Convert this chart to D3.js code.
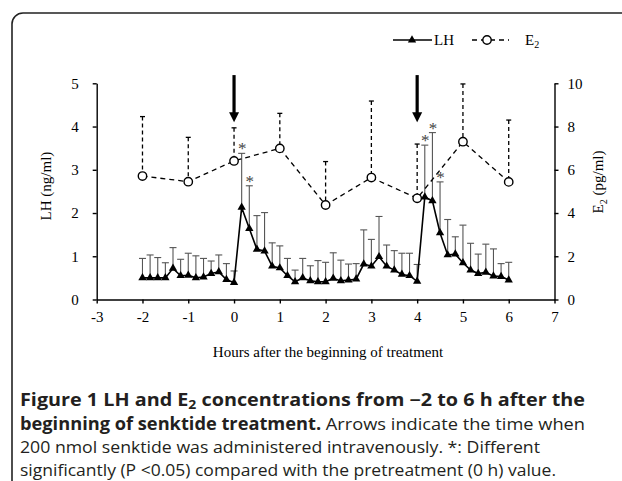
<!DOCTYPE html>
<html>
<head>
<meta charset="utf-8">
<script src="https://cdn.jsdelivr.net/npm/d3@7"></script>
<style>
  body { margin: 0; background: #fff; }
  svg { display: block; }
</style>
</head>
<body>
<svg width="622" height="481"></svg>
<script>
// sampling times for LH (minutes from start of treatment)
var lhMinutes = [-120, -110, -100, -90, -80, -70, -60, -50, -40, -30, -20, -10, 0,
  10, 20, 30, 40, 50, 60, 70, 80, 90, 100, 110, 120, 130, 140, 150, 160, 170, 180,
  190, 200, 210, 220, 230, 240, 250, 260, 270, 280, 290, 300, 310, 320, 330, 340, 350, 360];
var lhMean = [0.50, 0.50, 0.50, 0.50, 0.72, 0.55, 0.56, 0.50, 0.52, 0.60, 0.64, 0.46, 0.39,
  2.13, 1.64, 1.16, 1.12, 0.77, 0.73, 0.55, 0.41, 0.50, 0.43, 0.41, 0.41, 0.49, 0.43, 0.45,
  0.47, 0.82, 0.77, 0.99, 0.77, 0.68, 0.58, 0.55, 0.42, 2.37, 2.28, 1.54, 1.03, 1.05, 0.85,
  0.68, 0.60, 0.63, 0.54, 0.53, 0.45];
var lhSE = [0.45, 0.53, 0.47, 0.35, 0.48, 0.38, 0.51, 0.51, 0.43, 0.29, 0.39, 0.37, 0.27,
  1.25, 0.99, 0.78, 0.89, 0.54, 0.51, 0.40, 0.27, 0.45, 0.35, 0.49, 0.45, 0.59, 0.48, 0.37,
  0.36, 0.79, 0.62, 0.93, 0.49, 0.45, 0.49, 0.52, 0.39, 1.20, 1.58, 1.18, 0.82, 0.40, 0.87,
  0.62, 0.45, 0.65, 0.63, 0.30, 0.41];
var sigMinutes = [10, 20, 250, 260, 270];

// E2, hourly
var e2Hours = [-2, -1, 0, 1, 2, 3, 4, 5, 6];
var e2Mean = [5.71, 5.45, 6.41, 6.99, 4.37, 5.64, 4.68, 7.30, 5.44];
var e2SE = [2.75, 2.05, 1.53, 1.62, 2.01, 3.54, 2.51, 2.67, 2.86];

// senktide injections (h)
var injectHours = [0, 4];

var xTicks = [-3, -2, -1, 0, 1, 2, 3, 4, 5, 6, 7];
var lhTicks = [0, 1, 2, 3, 4, 5];
var e2Ticks = [0, 2, 4, 6, 8, 10];

var svg = d3.select("svg");
var serif = "'Liberation Serif', 'Times New Roman', serif";
var sans = "'Open Sans', 'Noto Sans', sans-serif";

// frame round figure + caption
svg.append("rect")
  .attr("x", 12).attr("y", 13)
  .attr("width", 660).attr("height", 520)
  .attr("rx", 11)
  .attr("fill", "none")
  .attr("stroke", "#222")
  .attr("stroke-width", 1.6);

var x = d3.scaleLinear().domain([-3, 7]).range([96.7, 554.5]);
var yL = d3.scaleLinear().domain([0, 5]).range([299.5, 83.3]);
var yR = d3.scaleLinear().domain([0, 10]).range([299.5, 83.3]);

var g = svg.append("g");

// axes
var xAxis = g.append("g")
  .attr("transform", "translate(0," + yL(0) + ")")
  .call(d3.axisBottom(x).tickValues(xTicks).tickFormat(d => String(d))
    .tickSize(4).tickSizeOuter(0).tickPadding(8));
var leftAxis = g.append("g")
  .attr("transform", "translate(" + x(-3) + ",0)")
  .call(d3.axisLeft(yL).tickValues(lhTicks).tickFormat(d => String(d))
    .tickSize(4).tickSizeOuter(0).tickPadding(14));
var rightAxis = g.append("g")
  .attr("transform", "translate(" + x(7) + ",0)")
  .call(d3.axisRight(yR).tickValues(e2Ticks).tickFormat(d => String(d))
    .tickSize(4).tickSizeOuter(0).tickPadding(9));

[xAxis, leftAxis, rightAxis].forEach(function (a) {
  a.selectAll("path, line").attr("stroke", "#000").attr("stroke-width", 1.4);
  a.selectAll("text").attr("fill", "#000")
    .style("font-family", serif).style("font-size", "15px");
});

// axis titles
g.append("text")
  .attr("transform", "translate(51,186) rotate(-90)")
  .attr("text-anchor", "middle")
  .style("font-family", serif).style("font-size", "15px")
  .text("LH (ng/ml)");

var e2Title = g.append("text")
  .attr("transform", "translate(603,182) rotate(-90)")
  .attr("text-anchor", "middle")
  .style("font-family", serif).style("font-size", "15px");
e2Title.append("tspan").text("E");
e2Title.append("tspan").attr("dy", 4).style("font-size", "10px").text("2");
e2Title.append("tspan").attr("dy", -4).text(" (pg/ml)");

g.append("text")
  .attr("x", 328).attr("y", 357)
  .attr("text-anchor", "middle")
  .style("font-family", serif).style("font-size", "15px")
  .text("Hours after the beginning of treatment");

// data rows
var lhData = lhMinutes.map(function (m, i) {
  return { h: m / 60, v: lhMean[i], se: lhSE[i], sig: sigMinutes.indexOf(m) >= 0 };
});
var e2Data = e2Hours.map(function (h, i) {
  return { h: h, v: e2Mean[i], se: e2SE[i] };
});

// LH error bars
var lhErr = g.append("g").attr("stroke", "#555").attr("stroke-width", 1.1);
lhErr.selectAll("line.v").data(lhData).enter().append("line")
  .attr("x1", d => x(d.h)).attr("x2", d => x(d.h))
  .attr("y1", d => yL(d.v)).attr("y2", d => yL(d.v + d.se));
lhErr.selectAll("line.c").data(lhData).enter().append("line")
  .attr("x1", d => x(d.h) - 3.5).attr("x2", d => x(d.h) + 3.5)
  .attr("y1", d => yL(d.v + d.se)).attr("y2", d => yL(d.v + d.se));

// E2 error bars (dashed)
var e2Err = g.append("g").attr("stroke", "#000").attr("stroke-width", 1.3);
e2Err.selectAll("line.v").data(e2Data).enter().append("line")
  .attr("stroke-dasharray", "4,3")
  .attr("x1", d => x(d.h)).attr("x2", d => x(d.h))
  .attr("y1", d => yR(d.v + d.se)).attr("y2", d => yR(d.v));
e2Err.selectAll("line.c").data(e2Data).enter().append("line")
  .attr("x1", d => x(d.h) - 2.5).attr("x2", d => x(d.h) + 2.5)
  .attr("y1", d => yR(d.v + d.se)).attr("y2", d => yR(d.v + d.se));

// LH line + triangles
g.append("path")
  .datum(lhData)
  .attr("fill", "none").attr("stroke", "#000").attr("stroke-width", 1.6)
  .attr("d", d3.line().x(d => x(d.h)).y(d => yL(d.v)));

var tri = d3.symbol().type(d3.symbolTriangle).size(30);
g.selectAll("path.tri").data(lhData).enter().append("path")
  .attr("class", "tri")
  .attr("d", tri)
  .attr("fill", "#000")
  .attr("transform", d => "translate(" + x(d.h) + "," + yL(d.v) + ")");

// E2 dashed line + circles
g.append("path")
  .datum(e2Data)
  .attr("fill", "none").attr("stroke", "#000").attr("stroke-width", 1.3)
  .attr("stroke-dasharray", "5,4")
  .attr("d", d3.line().x(d => x(d.h)).y(d => yR(d.v)));

g.selectAll("circle.e2").data(e2Data).enter().append("circle")
  .attr("class", "e2")
  .attr("cx", d => x(d.h)).attr("cy", d => yR(d.v))
  .attr("r", 4.2)
  .attr("fill", "#fff").attr("stroke", "#000").attr("stroke-width", 1.4);

// asterisks
g.selectAll("text.sig").data(lhData.filter(d => d.sig)).enter().append("text")
  .attr("class", "sig")
  .attr("x", d => x(d.h) + 0.5)
  .attr("y", d => yL(d.v + d.se) + 1)
  .attr("text-anchor", "middle")
  .style("font-family", serif).style("font-size", "17px")
  .style("fill", "#444")
  .text("*");

// injection arrows
injectHours.forEach(function (h) {
  var ax = x(h), top = yL(5.19), tip = yL(4.1);
  g.append("line")
    .attr("x1", ax).attr("x2", ax).attr("y1", top).attr("y2", tip - 8)
    .attr("stroke", "#000").attr("stroke-width", 3.2);
  g.append("path")
    .attr("d", "M" + (ax - 5) + "," + (tip - 10) + "L" + (ax + 5) + "," + (tip - 10) + "L" + ax + "," + tip + "Z")
    .attr("fill", "#000");
});

// legend
var leg = svg.append("g").style("font-family", serif).style("font-size", "15px");
leg.append("line").attr("x1", 393).attr("x2", 432).attr("y1", 40).attr("y2", 40)
  .attr("stroke", "#000").attr("stroke-width", 1.6);
leg.append("path").attr("d", tri).attr("transform", "translate(412,40)").attr("fill", "#000");
leg.append("text").attr("x", 434).attr("y", 45).text("LH");
leg.append("line").attr("x1", 472).attr("x2", 509).attr("y1", 40).attr("y2", 40)
  .attr("stroke", "#000").attr("stroke-width", 1.3).attr("stroke-dasharray", "5,4");
leg.append("circle").attr("cx", 487).attr("cy", 40).attr("r", 4.2)
  .attr("fill", "#fff").attr("stroke", "#000").attr("stroke-width", 1.4);
var legE2 = leg.append("text").attr("x", 525).attr("y", 45);
legE2.append("tspan").text("E");
legE2.append("tspan").attr("dy", 3).style("font-size", "10px").text("2");

// caption
var cap = svg.append("g")
  .style("font-family", sans).style("font-size", "17px")
  .attr("fill", "#231f20");
var l1 = cap.append("text").attr("x", 20).attr("y", 406)
  .attr("textLength", 565).attr("lengthAdjust", "spacingAndGlyphs")
  .style("font-weight", "bold");
l1.append("tspan").text("Figure 1 LH and E");
l1.append("tspan").attr("dy", 3).style("font-size", "12px").text("2");
l1.append("tspan").attr("dy", -3).text(" concentrations from \u22122 to 6 h after the");
var l2 = cap.append("text").attr("x", 20).attr("y", 430)
  .attr("textLength", 565).attr("lengthAdjust", "spacingAndGlyphs");
l2.append("tspan").style("font-weight", "bold").text("beginning of senktide treatment.");
l2.append("tspan").text(" Arrows indicate the time when");
cap.append("text").attr("x", 20).attr("y", 453)
  .attr("textLength", 520).attr("lengthAdjust", "spacingAndGlyphs")
  .text("200 nmol senktide was administered intravenously. *: Different");
cap.append("text").attr("x", 20).attr("y", 476)
  .attr("textLength", 536).attr("lengthAdjust", "spacingAndGlyphs")
  .text("significantly (P <0.05) compared with the pretreatment (0 h) value.");
</script>
</body>
</html>
